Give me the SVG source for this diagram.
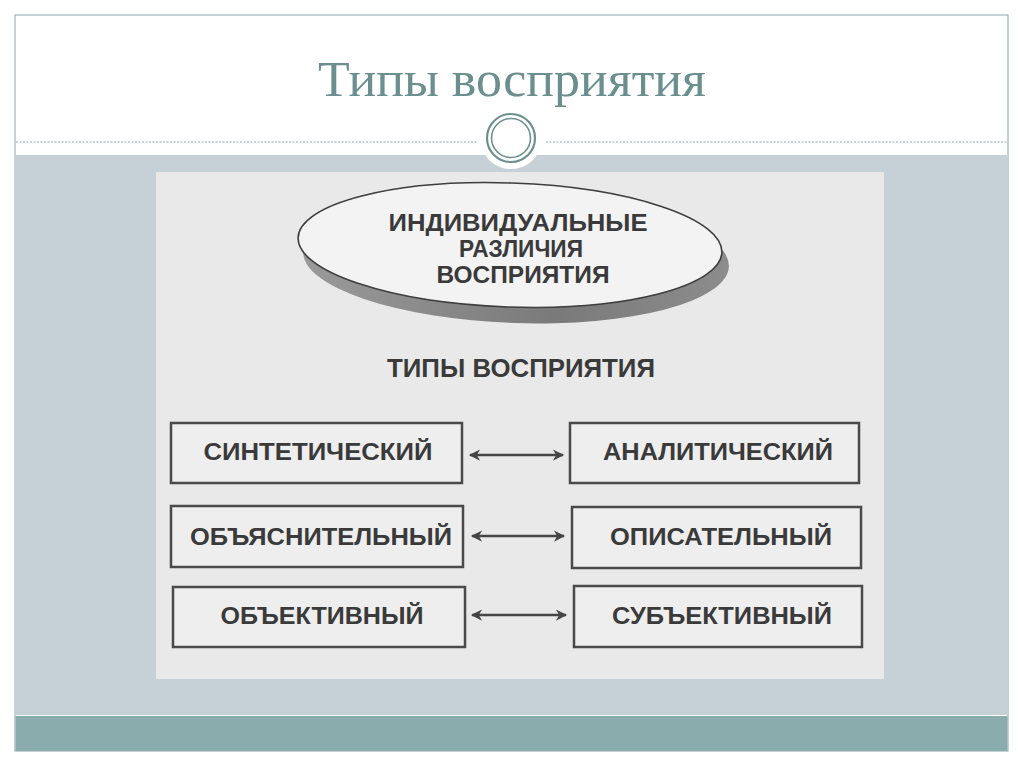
<svg xmlns="http://www.w3.org/2000/svg" width="1024" height="767" viewBox="0 0 1024 767">
<defs>
<style>
.box{fill:#eeeeee;stroke:#4a4a4a;stroke-width:2.5}
.lbl{font-family:"Liberation Sans",Arial,sans-serif;font-weight:bold;font-size:24px;fill:#3a3a3a;text-anchor:middle}
.ell{font-size:23px}
.arr{stroke:#454545;stroke-width:2.5;fill:none;marker-start:url(#ah);marker-end:url(#ah)}
.ring{fill:none;stroke:#6d8f90}
</style>
<marker id="ah" viewBox="0 0 10 10" refX="9" refY="5" markerWidth="5" markerHeight="4.5" orient="auto-start-reverse">
<path d="M0,0 L10,5 L0,10 L3,5 z" fill="#454545"/>
</marker>
<linearGradient id="sh" x1="0" y1="0" x2="1" y2="0">
<stop offset="0" stop-color="#9a9a9a"/>
<stop offset="0.6" stop-color="#7a7a7a"/>
<stop offset="1" stop-color="#8c8c8c"/>
</linearGradient>
</defs>
<rect x="0" y="0" width="1024" height="767" fill="#ffffff"/>
<rect x="15" y="15" width="993" height="736" fill="#ffffff" stroke="#9fb4b6" stroke-width="1.2"/>
<rect x="15.5" y="155" width="992" height="560" fill="#c5d1d7"/>
<rect x="15.5" y="716" width="992" height="35" fill="#8aacad"/>
<line x1="16" y1="142" x2="478" y2="142" stroke="#8fa6a8" stroke-width="1" stroke-dasharray="2 1.5"/>
<line x1="546" y1="142" x2="1007" y2="142" stroke="#8fa6a8" stroke-width="1" stroke-dasharray="2 1.5"/>
<circle cx="511" cy="138" r="31" fill="#ffffff"/>
<circle class="ring" cx="511" cy="138" r="24" stroke-width="2.2"/>
<circle class="ring" cx="511" cy="138" r="19.5" stroke-width="1.6"/>
<text x="512" y="96" font-family="Liberation Serif,serif" font-size="51" fill="#6b8e8f" text-anchor="middle" textLength="388" lengthAdjust="spacingAndGlyphs">Типы восприятия</text>
<rect x="156" y="172" width="728" height="507" fill="#e9e9e9"/>
<g id="ellipse-node">
<ellipse cx="516" cy="259" rx="213" ry="64" fill="url(#sh)" transform="rotate(2 516 259)"/>
<ellipse cx="510" cy="245" rx="212" ry="62" fill="#f3f3f3" stroke="#3e3e3e" stroke-width="1.6" transform="rotate(2 510 245)"/>
<text class="lbl ell" x="518" y="231" textLength="259" lengthAdjust="spacingAndGlyphs">ИНДИВИДУАЛЬНЫЕ</text>
<text class="lbl ell" x="521" y="257" textLength="124" lengthAdjust="spacingAndGlyphs">РАЗЛИЧИЯ</text>
<text class="lbl ell" x="523" y="283" textLength="173" lengthAdjust="spacingAndGlyphs">ВОСПРИЯТИЯ</text>
</g>
<g id="types-label">
<text class="lbl" x="521" y="377" style="font-size:26px" textLength="268" lengthAdjust="spacingAndGlyphs">ТИПЫ ВОСПРИЯТИЯ</text>
</g>
<g id="synthetic">
<rect class="box" x="171" y="423" width="291" height="60"/>
<text class="lbl" x="318" y="460" textLength="229" lengthAdjust="spacingAndGlyphs">СИНТЕТИЧЕСКИЙ</text>
</g>
<g id="analytic">
<rect class="box" x="570" y="423" width="289" height="60"/>
<text class="lbl" x="718" y="460" textLength="230" lengthAdjust="spacingAndGlyphs">АНАЛИТИЧЕСКИЙ</text>
</g>
<g id="explanatory">
<rect class="box" x="171" y="506" width="292" height="61"/>
<text class="lbl" x="321" y="545" textLength="262" lengthAdjust="spacingAndGlyphs">ОБЪЯСНИТЕЛЬНЫЙ</text>
</g>
<g id="descriptive">
<rect class="box" x="572" y="507" width="289" height="61"/>
<text class="lbl" x="721" y="545" textLength="222" lengthAdjust="spacingAndGlyphs">ОПИСАТЕЛЬНЫЙ</text>
</g>
<g id="objective">
<rect class="box" x="173" y="587" width="292" height="60"/>
<text class="lbl" x="322" y="624" textLength="203" lengthAdjust="spacingAndGlyphs">ОБЪЕКТИВНЫЙ</text>
</g>
<g id="subjective">
<rect class="box" x="574" y="586" width="288" height="61"/>
<text class="lbl" x="722" y="624" textLength="220" lengthAdjust="spacingAndGlyphs">СУБЪЕКТИВНЫЙ</text>
</g>
<g id="connectors">
<line class="arr" x1="470" y1="455" x2="563" y2="455"/>
<line class="arr" x1="472" y1="536" x2="564" y2="536"/>
<line class="arr" x1="472" y1="615" x2="566" y2="615"/>
</g>
</svg>
